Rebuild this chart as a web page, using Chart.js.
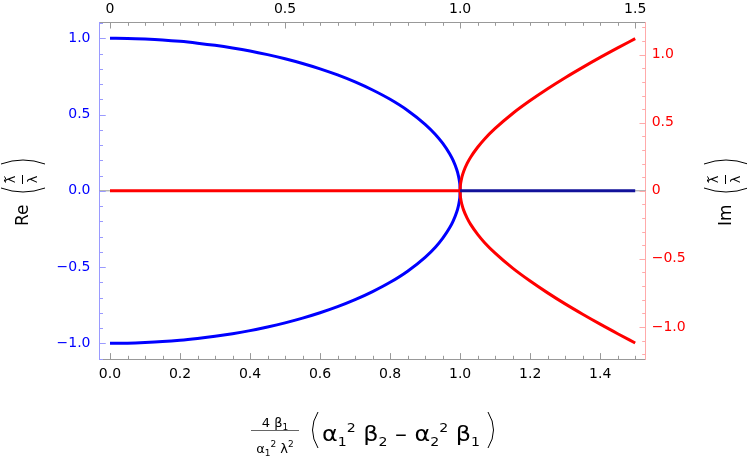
<!DOCTYPE html>
<html>
<head>
<meta charset="utf-8">
<script src="https://cdn.jsdelivr.net/npm/chart.js@4.4.1/dist/chart.umd.min.js"></script>
<style>
  html, body { margin: 0; background: #fff; }
  #wrap { width: 747px; height: 458px; }
</style>
</head>
<body>
<div id="wrap"><canvas id="c" width="747" height="458"></canvas></div>
<script>
// Re branch (blue), left axis
const reX     = [0, 0.05, 0.1, 0.15, 0.2, 0.25, 0.3, 0.35, 0.4, 0.45, 0.5, 0.55, 0.6, 0.65, 0.7, 0.75, 0.8, 0.85, 0.9, 0.93, 0.95, 0.97, 0.98, 0.99, 0.995, 0.998, 0.9995, 1.0];
const reUpper = [1, 0.999, 0.995, 0.989, 0.98, 0.968, 0.954, 0.937, 0.917, 0.893, 0.866, 0.835, 0.8, 0.76, 0.714, 0.661, 0.6, 0.527, 0.436, 0.368, 0.312, 0.243, 0.199, 0.141, 0.1, 0.063, 0.032, 0];
const reLower = [-1, -0.999, -0.995, -0.989, -0.98, -0.968, -0.954, -0.937, -0.917, -0.893, -0.866, -0.835, -0.8, -0.76, -0.714, -0.661, -0.6, -0.527, -0.436, -0.368, -0.312, -0.243, -0.199, -0.141, -0.1, -0.063, -0.032, 0];
const reFlatX = [1.0, 1.5];
const reFlatY = [0, 0];

// Im branch (red), right axis
const imX     = [1.0, 1.0005, 1.002, 1.005, 1.01, 1.02, 1.03, 1.05, 1.07, 1.1, 1.15, 1.2, 1.25, 1.3, 1.35, 1.4, 1.45, 1.5];
const imUpper = [0, 0.032, 0.063, 0.1, 0.142, 0.201, 0.247, 0.32, 0.381, 0.458, 0.568, 0.663, 0.75, 0.831, 0.907, 0.98, 1.05, 1.118];
const imLower = [0, -0.032, -0.063, -0.1, -0.142, -0.201, -0.247, -0.32, -0.381, -0.458, -0.568, -0.663, -0.75, -0.831, -0.907, -0.98, -1.05, -1.118];
const imFlatX = [0, 1.0];
const imFlatY = [0, 0];

// ticks
const bottomTicks  = [0, 0.2, 0.4, 0.6, 0.8, 1.0, 1.2, 1.4];
const bottomLabels = ["0.0", "0.2", "0.4", "0.6", "0.8", "1.0", "1.2", "1.4"];
const topTicks     = [0, 0.5, 1.0, 1.5];
const topLabels    = ["0", "0.5", "1.0", "1.5"];
const leftTicks    = [-1, -0.5, 0, 0.5, 1];
const leftLabels   = ["\u22121.0", "\u22120.5", "0.0", "0.5", "1.0"];
const rightTicks   = [-1, -0.5, 0, 0.5, 1];
const rightLabels  = ["\u22121.0", "\u22120.5", "0", "0.5", "1.0"];

const BLUE = "#0000ff", RED = "#ff0000", NAVY = "#12129a";
const FONT = "DejaVu Sans";

const pts = (xs, ys) => xs.map((x, i) => ({ x: x, y: ys[i] }));
const steps = (a, b, d) => { const r = []; for (let v = a; v <= b + 1e-9; v += d) r.push(+v.toFixed(3)); return r; };

function axis(position, ticks, labels, color, lineColor, size, padding, extra) {
  return Object.assign({
    type: "linear",
    position: position,
    grid: { display: true, drawOnChartArea: false, drawTicks: false },
    border: { display: true, color: lineColor, width: 1 },
    ticks: {
      autoSkip: false, maxRotation: 0, padding: padding, color: color,
      font: { family: FONT, size: 14 },
      callback: (v) => { const i = ticks.indexOf(+(+v).toFixed(3)); return i < 0 ? "" : labels[i]; }
    },
    afterBuildTicks: (s) => { s.ticks = ticks.map(v => ({ value: v })); },
    afterFit: (s) => { if (position === "left" || position === "right") s.width = size; else s.height = size; }
  }, extra);
}

// inward tick marks + y=0 axis line
const tickMarks = {
  id: "tickMarks",
  beforeDatasetsDraw(chart) {
    const { ctx, chartArea: a, scales } = chart;
    const y0 = scales.y.getPixelForValue(0);
    ctx.save();
    ctx.strokeStyle = "#999";
    ctx.lineWidth = 1;
    ctx.beginPath(); ctx.moveTo(a.left, y0); ctx.lineTo(a.right, y0); ctx.stroke();
    ctx.restore();
  },
  afterDraw(chart) {
    const { ctx, chartArea: a, scales } = chart;
    const set = [
      { s: scales.x,  major: bottomTicks, minor: steps(0, 1.5, 0.05), color: "#999", side: "bottom" },
      { s: scales.x2, major: topTicks,    minor: steps(0, 1.5, 0.05), color: "#999", side: "top" },
      { s: scales.y,  major: leftTicks,   minor: steps(-1.1, 1.1, 0.1), color: "#9a9aff", side: "left" },
      { s: scales.y2, major: rightTicks,  minor: steps(-1.2, 1.2, 0.1), color: "#ffaaaa", side: "right" }
    ];
    ctx.save();
    ctx.lineWidth = 1;
    set.forEach(o => {
      ctx.strokeStyle = o.color;
      o.minor.concat(o.major).forEach((v, k) => {
        const len = k >= o.minor.length || o.major.some(m => Math.abs(m - v) < 1e-6) ? 6 : 3.5;
        const p = Math.round(o.s.getPixelForValue(v)) + 0.5;
        ctx.beginPath();
        if (o.side === "bottom") { ctx.moveTo(p, a.bottom); ctx.lineTo(p, a.bottom - len); }
        if (o.side === "top")    { ctx.moveTo(p, a.top);    ctx.lineTo(p, a.top + len); }
        if (o.side === "left")   { ctx.moveTo(a.left, p);   ctx.lineTo(a.left + len, p); }
        if (o.side === "right")  { ctx.moveTo(a.right, p);  ctx.lineTo(a.right - len, p); }
        ctx.stroke();
      });
    });
    ctx.restore();
  }
};

function drawRuns(ctx, runs, x, base) {
  let cx = x;
  runs.forEach(r => {
    ctx.font = r.size + "px '" + FONT + "'";
    ctx.fillText(r.t, cx, base + (r.dy || 0));
    cx += ctx.measureText(r.t).width;
  });
  return cx - x;
}
function runsWidth(ctx, runs) {
  let w = 0;
  runs.forEach(r => { ctx.font = r.size + "px '" + FONT + "'"; w += ctx.measureText(r.t).width; });
  return w;
}

function drawYTitle(ctx, ox, oy, word) {
  ctx.save();
  ctx.translate(ox, oy);
  ctx.rotate(-Math.PI / 2);
  ctx.fillStyle = "#000";
  ctx.strokeStyle = "#000";
  ctx.textBaseline = "alphabetic";
  ctx.textAlign = "left";
  ctx.font = "17px '" + FONT + "'";
  ctx.fillText(word, -33, 6);
  // parentheses
  ctx.lineWidth = 1;
  ctx.beginPath(); ctx.moveTo(5, -21); ctx.quadraticCurveTo(-3, 1, 5, 23); ctx.stroke();
  ctx.beginPath(); ctx.moveTo(29, -21); ctx.quadraticCurveTo(37, 1, 29, 23); ctx.stroke();
  // fraction
  ctx.beginPath(); ctx.moveTo(9, 0.5); ctx.lineTo(18, 0.5); ctx.stroke();
  ctx.textAlign = "center";
  ctx.font = "13px '" + FONT + "'";
  ctx.fillText("\u03bb", 13.5, -7);
  ctx.fillText("\u03bb", 13.5, 15);
  ctx.beginPath();
  ctx.moveTo(10.5, -16);
  ctx.quadraticCurveTo(12, -19, 13.5, -17);
  ctx.quadraticCurveTo(15, -15, 16.5, -18);
  ctx.stroke();
  ctx.restore();
}

const titles = {
  id: "titles",
  afterDraw(chart) {
    const ctx = chart.ctx;
    drawYTitle(ctx, 22, 193, "Re");
    drawYTitle(ctx, 725, 193, "Im");

    ctx.save();
    ctx.fillStyle = "#000";
    ctx.textAlign = "left";
    ctx.textBaseline = "alphabetic";
    // fraction 4 beta1 / (alpha1^2 lambda^2)
    const num = [{ t: "4 ", size: 13 }, { t: "\u03b2", size: 13 }, { t: "1", size: 9, dy: 3 }];
    const den = [{ t: "\u03b1", size: 13 }, { t: "1", size: 9, dy: 3 }, { t: "2", size: 9, dy: -6 },
                 { t: " \u03bb", size: 13 }, { t: "2", size: 9, dy: -6 }];
    drawRuns(ctx, num, 275 - runsWidth(ctx, num) / 2, 427);
    drawRuns(ctx, den, 275 - runsWidth(ctx, den) / 2, 453);
    ctx.strokeStyle = "#666";
    ctx.lineWidth = 1.2;
    ctx.beginPath(); ctx.moveTo(251, 430.5); ctx.lineTo(299, 430.5); ctx.stroke();

    // (alpha1^2 beta2 - alpha2^2 beta1)
    const main = [
      { t: "\u03b1", size: 22 }, { t: "1", size: 13, dy: 5 }, { t: "2", size: 13, dy: -9 },
      { t: " \u03b2", size: 22 }, { t: "2", size: 13, dy: 5 },
      { t: " \u2013 \u03b1", size: 22 }, { t: "2", size: 13, dy: 5 }, { t: "2", size: 13, dy: -9 },
      { t: " \u03b2", size: 22 }, { t: "1", size: 13, dy: 5 }
    ];
    const w = runsWidth(ctx, main);
    ctx.save();
    ctx.translate(322, 0);
    ctx.scale(158 / w, 1);
    drawRuns(ctx, main, 0, 441);
    ctx.restore();
    ctx.strokeStyle = "#000";
    ctx.lineWidth = 1;
    ctx.beginPath(); ctx.moveTo(318, 412); ctx.quadraticCurveTo(307, 430, 318, 448); ctx.stroke();
    ctx.beginPath(); ctx.moveTo(488, 412); ctx.quadraticCurveTo(499, 430, 488, 448); ctx.stroke();
    ctx.restore();
  }
};

const line = (data, color, axisId, order) => ({
  data: data, borderColor: color, borderWidth: 3, pointRadius: 0, showLine: true,
  cubicInterpolationMode: "monotone", fill: false, yAxisID: axisId, order: order
});

new Chart(document.getElementById("c"), {
  type: "scatter",
  data: {
    datasets: [
      line(pts(reFlatX, reFlatY), NAVY, "y", 0),
      line(pts(imFlatX, imFlatY), RED, "y2", 1),
      line(pts(imX, imUpper), RED, "y2", 2),
      line(pts(imX, imLower), RED, "y2", 2),
      line(pts(reX, reUpper), BLUE, "y", 3),
      line(pts(reX, reLower), BLUE, "y", 3)
    ]
  },
  options: {
    responsive: false,
    animation: false,
    layout: { padding: 0 },
    plugins: { legend: { display: false }, tooltip: { enabled: false } },
    scales: {
      x:  axis("bottom", bottomTicks, bottomLabels, "#000", "#999", 98.7, 7, { min: -0.03, max: 1.53 }),
      x2: axis("top", topTicks, topLabels, "#000", "#999", 22.3, 5, { min: -0.03, max: 1.53 }),
      y:  axis("left", leftTicks, leftLabels, BLUE, "#9a9aff", 99.5, 9, { min: -1.105, max: 1.105 }),
      y2: axis("right", rightTicks, rightLabels, RED, "#ffaaaa", 101.3, 6, { min: -1.238, max: 1.238 })
    }
  },
  plugins: [tickMarks, titles]
});
</script>
</body>
</html>
